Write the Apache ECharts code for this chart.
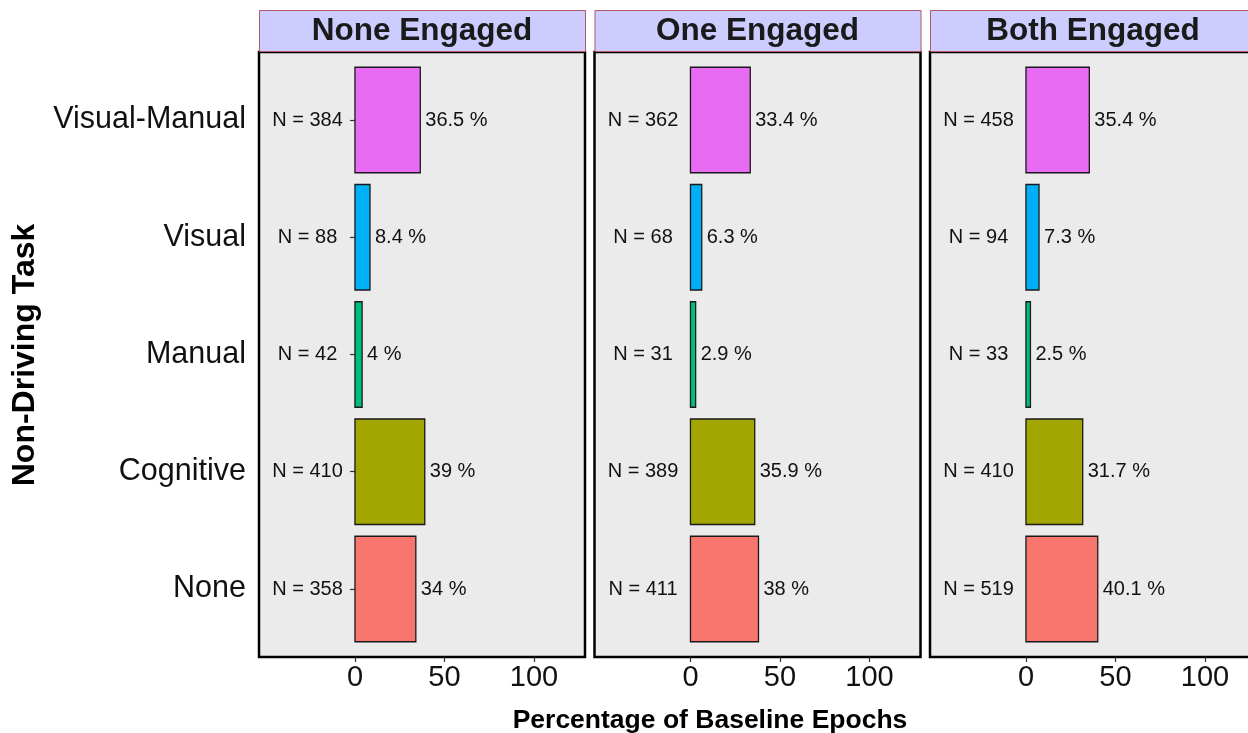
<!DOCTYPE html>
<html>
<head>
<meta charset="utf-8">
<script src="https://cdn.jsdelivr.net/npm/echarts@6/dist/echarts.min.js"></script>
<style>html,body{margin:0;padding:0;background:#fff;}#c{width:1248px;height:733px;}</style>
</head>
<body>
<div id="c"></div>
<script>
const categories = ['Visual-Manual', 'Visual', 'Manual', 'Cognitive', 'None'];
const facets = ['None Engaged', 'One Engaged', 'Both Engaged'];
const noneEngagedPct = [36.5, 8.4, 4, 39, 34];
const noneEngagedN = [384, 88, 42, 410, 358];
const oneEngagedPct = [33.4, 6.3, 2.9, 35.9, 38];
const oneEngagedN = [362, 68, 31, 389, 411];
const bothEngagedPct = [35.4, 7.3, 2.5, 31.7, 40.1];
const bothEngagedN = [458, 94, 33, 410, 519];
const xTicks = [0, 50, 100];
const categoryColors = ['#E76BF3', '#00B0F6', '#00BF7D', '#A3A500', '#F8766D'];

const pctList = [noneEngagedPct, oneEngagedPct, bothEngagedPct];
const nList = [noneEngagedN, oneEngagedN, bothEngagedN];

const FONT = "'Liberation Sans', Arial, Helvetica, sans-serif";
const panelLefts = [259, 594.5, 930];
const panelWidth = 326;
const panelTop = 52;
const panelHeight = 605;
const yPos = categories.map((c, i) => i + 1);

const grids = [], xAxes = [], yAxes = [], series = [], graphics = [];
facets.forEach((f, k) => {
  grids.push({
    left: panelLefts[k], top: panelTop, width: panelWidth, height: panelHeight,
    show: true, backgroundColor: '#EBEBEB', borderColor: '#000', borderWidth: 2.5,
    containLabel: false, outerBoundsMode: 'none'
  });
  xAxes.push({
    type: 'value', gridIndex: k, min: -53.6, max: 128.5,
    axisLine: { show: false },
    splitLine: { show: false },
    axisTick: { show: true, customValues: xTicks, length: 5, lineStyle: { color: '#333', width: 1.2 } },
    axisLabel: { show: true, customValues: xTicks, fontSize: 29, color: '#111', fontFamily: FONT, margin: 6 }
  });
  yAxes.push({
    type: 'value', gridIndex: k, min: 0.42, max: 5.58, inverse: true,
    axisLine: { show: false },
    splitLine: { show: false },
    axisTick: { show: k === 0, customValues: yPos, length: 5, lineStyle: { color: '#333', width: 1.2 } },
    axisLabel: {
      show: k === 0, customValues: yPos, fontSize: 30.5, color: '#111', fontFamily: FONT, margin: 13,
      formatter: v => categories[Math.round(v) - 1] || ''
    }
  });
  const data = categories.map((c, i) => [pctList[k][i], yPos[i], nList[k][i]]);
  series.push({
    type: 'custom', xAxisIndex: k, yAxisIndex: k, clip: false,
    data: data,
    encode: { x: 0, y: 1 },
    renderItem: function (params, api) {
      const v = api.value(0), y = api.value(1), n = api.value(2);
      const p0 = api.coord([0, y - 0.45]);
      const p1 = api.coord([v, y + 0.45]);
      const pc = api.coord([v, y]);
      const pn = api.coord([-26.5, y]);
      return {
        type: 'group',
        children: [
          {
            type: 'rect',
            shape: { x: p0[0], y: p0[1], width: p1[0] - p0[0], height: p1[1] - p0[1] },
            style: { fill: categoryColors[params.dataIndex], stroke: '#1a1a1a', lineWidth: 1.3 }
          },
          {
            type: 'text',
            style: { text: v + ' %', x: pc[0] + 5, y: pc[1], fill: '#111', fontSize: 20, fontFamily: FONT, align: 'left', verticalAlign: 'middle' }
          },
          {
            type: 'text',
            style: { text: 'N = ' + n, x: pn[0], y: pn[1], fill: '#111', fontSize: 20, fontFamily: FONT, align: 'center', verticalAlign: 'middle' }
          }
        ]
      };
    }
  });
  graphics.push({
    type: 'rect', left: panelLefts[k], top: 10,
    shape: { width: panelWidth, height: 41 },
    style: { fill: '#CCCCFF', stroke: '#B35A6A', lineWidth: 1 }
  });
  graphics.push({
    type: 'text', x: panelLefts[k] + panelWidth / 2, y: 31,
    style: { text: f, fill: '#1a1a1a', font: 'bold 31.5px ' + FONT, align: 'center', verticalAlign: 'middle' }
  });
});

graphics.push({
  type: 'text', x: 710, y: 721,
  style: { text: 'Percentage of Baseline Epochs', fill: '#000', font: 'bold 26.5px ' + FONT, align: 'center', verticalAlign: 'middle' }
});
graphics.push({
  type: 'text', x: 25, y: 355, rotation: Math.PI / 2,
  style: { text: 'Non-Driving Task', fill: '#000', font: 'bold 32px ' + FONT, align: 'center', verticalAlign: 'middle' }
});

const chart = echarts.init(document.getElementById('c'), null, { renderer: 'canvas' });
chart.setOption({
  animation: false,
  backgroundColor: '#fff',
  grid: grids,
  xAxis: xAxes,
  yAxis: yAxes,
  series: series,
  graphic: graphics
});
</script>
</body>
</html>
